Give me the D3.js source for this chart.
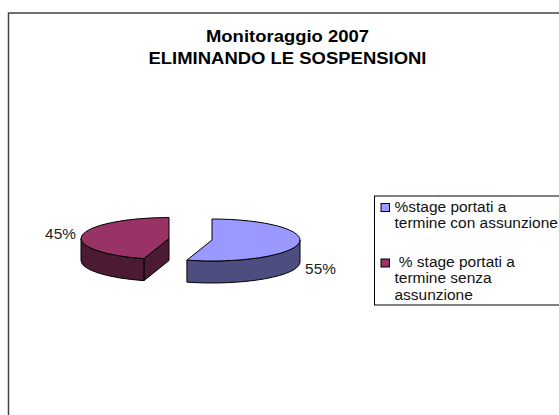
<!DOCTYPE html>
<html>
<head>
<meta charset="utf-8">
<script src="https://cdnjs.cloudflare.com/ajax/libs/d3/7.8.5/d3.min.js"></script>
<style>
  html, body { margin: 0; padding: 0; background: #fff; }
  text { font-family: "Liberation Sans", Arial, sans-serif; fill: #000; white-space: pre; }
</style>
</head>
<body>
<svg id="chart" width="559" height="415"></svg>
<script>
const titleLines = ["Monitoraggio 2007", "ELIMINANDO LE SOSPENSIONI"];
const sliceValues = [54.6, 45.4];
const sliceLabels = ["55%", "45%"];
const topColors = ["#9999ff", "#993366"];
const sideColors = ["#4d4d80", "#4d1a33"];
const legendLines = [
  ["%stage portati a", "termine con assunzione"],
  [" % stage portati a", "termine senza", "assunzione"]
];

const svg = d3.select("#chart");

// the original text is a bit wider than Liberation Sans, stretch it sideways
function stretchedText(parent, x, y, size, stretch, str) {
  return parent.append("text")
    .attr("transform", `translate(${x},${y}) scale(${stretch},1)`)
    .attr("font-size", size)
    .text(str);
}

// chart frame, runs off the right and bottom of the picture
svg.append("rect")
  .attr("x", 8.5).attr("y", 13)
  .attr("width", 600).attr("height", 450)
  .attr("fill", "#fff")
  .attr("stroke", "#444")
  .attr("stroke-width", 1.5);

// title
const title = svg.append("g");
titleLines.forEach((line, i) => {
  stretchedText(title, 287.5, 42 + i * 21.5, 16.5, 1.12, line)
    .attr("text-anchor", "middle")
    .attr("font-weight", "bold");
});

// pie geometry: flat ellipse with a wall below it
const rx = 88, ry = 21, depth = 22;
const centers = [[212, 240], [169, 238.5]];
const slices = d3.pie().sort(null)(sliceValues);
const arc = d3.arc().innerRadius(0).outerRadius(rx);

// point on the rim for a d3 pie angle (0 = 12 o'clock, clockwise)
function rim(a) {
  return [rx * Math.sin(a), -ry * Math.cos(a)];
}

// wall under the rim between angles a0 and a1
function wallPath(a0, a1) {
  const s = rim(a0), e = rim(a1);
  let d = `M${s[0]},${s[1]}A${rx},${ry} 0 0 1 ${e[0]},${e[1]}`;
  d += `L${e[0]},${e[1] + depth}`;
  d += `A${rx},${ry} 0 0 0 ${s[0]},${s[1] + depth}Z`;
  return d;
}

const pie = svg.append("g");
slices.forEach((s, i) => {
  const g = pie.append("g")
    .attr("transform", `translate(${centers[i][0]},${centers[i][1]})`);

  // the slice ending at 12 o'clock shows its cut face
  if (s.endAngle >= Math.PI * 2 - 1e-6) {
    const a = rim(s.startAngle);
    g.append("path")
      .attr("d", `M0,0L0,${depth}L${a[0]},${a[1] + depth}L${a[0]},${a[1]}Z`)
      .attr("fill", sideColors[i])
      .attr("stroke", "#000");
  }

  // only the front half of the rim has a visible wall
  g.append("path")
    .attr("d", wallPath(Math.max(s.startAngle, Math.PI / 2), Math.min(s.endAngle, Math.PI * 1.5)))
    .attr("fill", sideColors[i])
    .attr("stroke", "#000");

  g.append("path")
    .attr("transform", `scale(1,${ry / rx})`)
    .attr("d", arc(s))
    .attr("fill", topColors[i])
    .attr("stroke", "#000")
    .style("vector-effect", "non-scaling-stroke");
});

// percent labels
const labelSpots = [[320.5, 273.5], [60.5, 239]];
const labels = svg.append("g");
sliceLabels.forEach((label, i) => {
  stretchedText(labels, labelSpots[i][0], labelSpots[i][1], 14, 1.1, label)
    .attr("text-anchor", "middle")
    .style("fill", "#222");
});

// legend
const legend = svg.append("g");
legend.append("rect")
  .attr("x", 374.5).attr("y", 196)
  .attr("width", 200).attr("height", 109)
  .attr("fill", "#fff")
  .attr("stroke", "#000");

const legendSwatchY = [203.5, 259];
const legendLineY = [[212.3, 227.7], [267.3, 283.3, 299.5]];
legendLines.forEach((lines, i) => {
  legend.append("rect")
    .attr("x", 381).attr("y", legendSwatchY[i])
    .attr("width", 8.5).attr("height", 8)
    .attr("fill", topColors[i])
    .attr("stroke", "#000");
  lines.forEach((line, j) => {
    stretchedText(legend, 394.5, legendLineY[i][j], 14, 1.105, line)
      .style("fill", "#111");
  });
});
</script>
</body>
</html>
